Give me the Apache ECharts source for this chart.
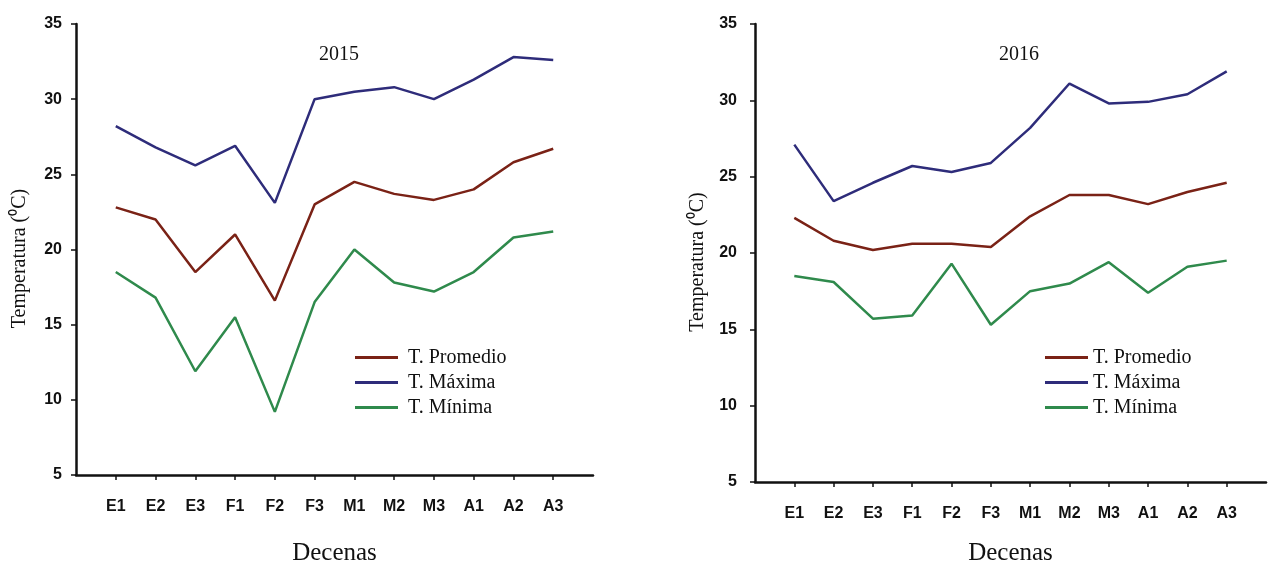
<!DOCTYPE html>
<html>
<head>
<meta charset="utf-8">
<script src="https://cdn.jsdelivr.net/npm/echarts@6/dist/echarts.min.js"></script>
<style>
  html, body { margin: 0; padding: 0; background: #ffffff; }
  #chart { width: 1269px; height: 571px; }
</style>
</head>
<body>
<div id="chart"></div>
<script>
// Ten-day periods (decenas), January to April
const decenas = ['E1', 'E2', 'E3', 'F1', 'F2', 'F3', 'M1', 'M2', 'M3', 'A1', 'A2', 'A3'];
const yTicks = [5, 10, 15, 20, 25, 30, 35];

// 2015 temperatures (°C)
const prom2015 = [22.8, 22.0, 18.5, 21.0, 16.6, 23.0, 24.5, 23.7, 23.3, 24.0, 25.8, 26.7];
const max2015  = [28.2, 26.8, 25.6, 26.9, 23.1, 30.0, 30.5, 30.8, 30.0, 31.3, 32.8, 32.6];
const min2015  = [18.5, 16.8, 11.9, 15.5, 9.2, 16.5, 20.0, 17.8, 17.2, 18.5, 20.8, 21.2];

// 2016 temperatures (°C)
const prom2016 = [22.3, 20.8, 20.2, 20.6, 20.6, 20.4, 22.4, 23.8, 23.8, 23.2, 24.0, 24.6];
const max2016  = [27.1, 23.4, 24.6, 25.7, 25.3, 25.9, 28.2, 31.1, 29.8, 29.9, 30.4, 31.9];
const min2016  = [18.5, 18.1, 15.7, 15.9, 19.3, 15.3, 17.5, 18.0, 19.4, 17.4, 19.1, 19.5];

const names = ['T. Promedio', 'T. Máxima', 'T. Mínima'];
const colors = { 'T. Promedio': '#7a2216', 'T. Máxima': '#2e2c7a', 'T. Mínima': '#2f8a4c' };

// an empty slot on each side keeps the lines off the axes
const cats = [''].concat(decenas, ['']);
const pad = arr => [null].concat(arr, [null]);

const serif = '"Liberation Serif", "Times New Roman", serif';
const sansBold = '"Liberation Sans", Arial, sans-serif';

function xAxisFor(gridIndex, nameGap, margin) {
  return {
    type: 'category', gridIndex, data: cats, boundaryGap: false,
    name: 'Decenas', nameLocation: 'middle', nameGap,
    nameTextStyle: { fontFamily: serif, fontSize: 25, color: '#111' },
    axisLine: { lineStyle: { color: '#111', width: 2.5 } },
    axisTick: { show: true, length: 5, interval: (i, v) => v !== '', lineStyle: { color: '#111', width: 1.5 } },
    axisLabel: { interval: 0, margin, fontFamily: sansBold, fontWeight: 'bold', fontSize: 16, color: '#111' },
    splitLine: { show: false }
  };
}

function yAxisFor(gridIndex, nameGap, margin) {
  return {
    type: 'value', gridIndex, min: yTicks[0], max: yTicks[yTicks.length - 1], interval: 5,
    name: 'Temperatura (⁰C)', nameLocation: 'middle', nameGap, nameRotate: 90,
    nameTextStyle: { fontFamily: serif, fontSize: 20, color: '#111', padding: [0, 0, 0, -18] },
    axisLine: { show: true, lineStyle: { color: '#111', width: 2.5 } },
    axisTick: { show: true, length: 5, lineStyle: { color: '#111', width: 1.5 } },
    axisLabel: { margin, fontFamily: sansBold, fontWeight: 'bold', fontSize: 16, color: '#111' },
    splitLine: { show: false }
  };
}

function seriesFor(idx, prom, max, min) {
  const sets = [prom, max, min];
  return names.map((n, k) => ({
    name: n, type: 'line', xAxisIndex: idx, yAxisIndex: idx,
    data: pad(sets[k]), showSymbol: false, symbol: 'none',
    lineStyle: { color: colors[n], width: 2.5 }, itemStyle: { color: colors[n] },
    connectNulls: false, animation: false
  }));
}

function legendFor(left, top, textPad) {
  return {
    orient: 'vertical', left, top, data: names,
    icon: 'rect', itemWidth: 43, itemHeight: 3, itemGap: 4,
    selectedMode: false,
    textStyle: { fontFamily: serif, fontSize: 20, lineHeight: 21, color: '#111', padding: [0, 0, 0, textPad] }
  };
}

const chart = echarts.init(document.getElementById('chart'), null, { renderer: 'canvas' });
chart.setOption({
  backgroundColor: '#ffffff',
  animation: false,
  title: [
    { text: '2015', left: 334, top: 40, textAlign: 'center',
      textStyle: { fontFamily: serif, fontSize: 20, fontWeight: 'normal', color: '#111' } },
    { text: '2016', left: 1014, top: 40, textAlign: 'center',
      textStyle: { fontFamily: serif, fontSize: 20, fontWeight: 'normal', color: '#111' } }
  ],
  legend: [legendFor(350, 342, 5), legendFor(1040, 342, 0)],
  grid: [
    { left: 76, top: 24, width: 517, height: 457 },
    { left: 755, top: 24, width: 524, height: 465 }
  ],
  xAxis: [xAxisFor(0, 66, 24), xAxisFor(1, 59, 24)],
  yAxis: [yAxisFor(0, 46, 14), yAxisFor(1, 47, 18)],
  series: seriesFor(0, prom2015, max2015, min2015).concat(seriesFor(1, prom2016, max2016, min2016))
});
</script>
</body>
</html>
